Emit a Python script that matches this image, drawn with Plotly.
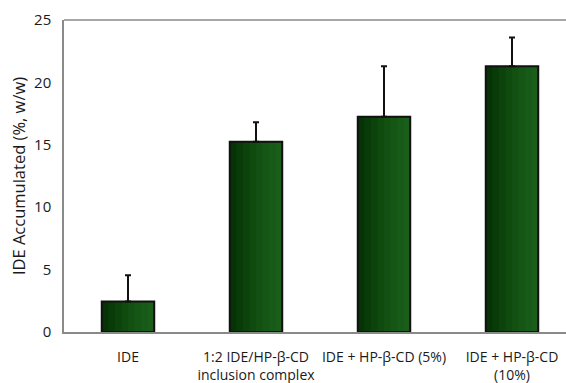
import plotly.graph_objects as go

# Accumulated IDE per formulation (mean and upper SD)
categories = [
    "IDE",
    "1:2 IDE/HP-β-CD<br>inclusion complex",
    "IDE + HP-β-CD (5%)",
    "IDE + HP-β-CD<br>(10%)",
]
values = [2.45, 15.25, 17.25, 21.3]
errors = [2.1, 1.55, 4.05, 2.3]

bar_width = 0.41
# vertical shading across each bar (dark left to lighter right);
# each band runs to the bar's right edge and is overlaid by the next one
stripe_colors = ["#063306", "#093b09", "#0c430c", "#0f4a0f",
                 "#125112", "#155615", "#185a18", "#1b5d1b"]
n = len(stripe_colors)
sw = bar_width / n

x_idx = list(range(len(categories)))
fig = go.Figure()
for i, c in enumerate(stripe_colors):
    fig.add_trace(go.Bar(
        x=x_idx, y=values, width=bar_width - i * sw,
        offset=-bar_width / 2 + i * sw,
        marker=dict(color=c, line=dict(width=0)),
        showlegend=False, hoverinfo="skip",
    ))

# outline and error bars on top
fig.add_trace(go.Bar(
    x=x_idx, y=values, width=bar_width,
    marker=dict(color="rgba(0,0,0,0)", line=dict(color="#111111", width=2)),
    error_y=dict(type="data", array=errors, arrayminus=[0] * len(errors),
                 symmetric=False, color="#111111", thickness=2, width=3),
    showlegend=False,
))

fig.update_layout(
    width=566, height=383,
    margin=dict(l=64, r=0, t=20, b=51),
    paper_bgcolor="white", plot_bgcolor="white",
    barmode="overlay",
    font=dict(family="Open Sans, sans-serif", size=14, color="#1a1a1a"),
    xaxis=dict(
        tickmode="array", tickvals=x_idx, ticktext=categories,
        range=[-0.5, -0.5 + 502 / 128],
        showline=True, linecolor="#8a8a8a", linewidth=1.5,
        showgrid=False, zeroline=False,
        ticks="outside", ticklen=11, tickcolor="rgba(0,0,0,0)",
        tickfont=dict(size=14),
    ),
    yaxis=dict(
        range=[0, 25], tickvals=[0, 5, 10, 15, 20, 25],
        showline=True, linecolor="#8a8a8a", linewidth=1.5,
        showgrid=False, zeroline=False,
        ticks="outside", ticklen=8, tickcolor="rgba(0,0,0,0)",
        tickfont=dict(size=15),
        title=dict(text="IDE Accumulated (%, w/w)", font=dict(size=16.5), standoff=4),
    ),
)
# top frame line
fig.add_shape(type="line", xref="paper", yref="paper", x0=0, x1=1, y0=1, y1=1,
              line=dict(color="#8a8a8a", width=1.5))

fig.write_html("out.html")
